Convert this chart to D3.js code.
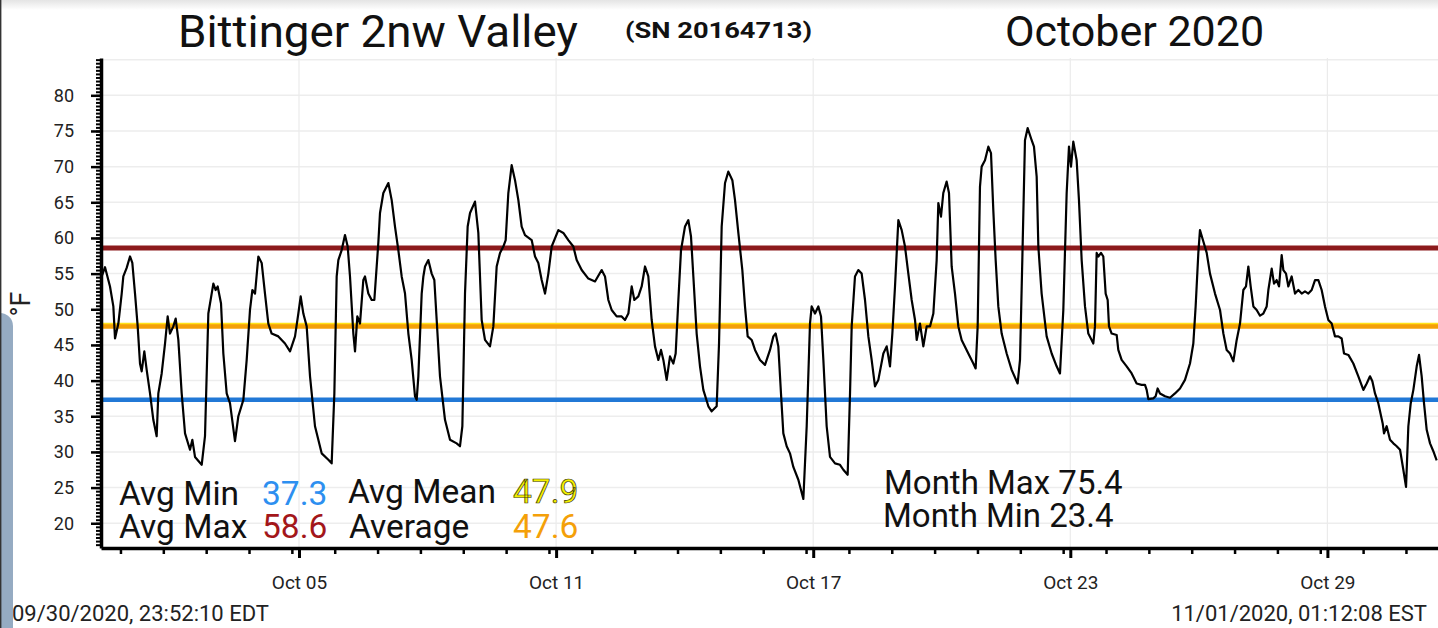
<!DOCTYPE html>
<html>
<head>
<meta charset="utf-8">
<script src="https://cdn.jsdelivr.net/npm/d3@7"></script>
<style>
  body { margin: 0; background: #fff; overflow: hidden; }
  text { font-family: Roboto, "Noto Sans", sans-serif; }
</style>
</head>
<body>
<div id="chart"></div>
<script>
const width = 1438, height = 628;

// Logger readings: day of month (on the chart's time axis) and °F
const dayOfMonth = [
    0.395, 0.473, 0.589, 0.667, 0.706, 0.784, 0.862, 0.900, 0.978, 1.056, 1.110, 1.173, 1.235, 1.289, 1.328,
    1.390, 1.445, 1.523, 1.600, 1.678, 1.717, 1.795, 1.873, 1.935, 1.989, 2.067, 2.122, 2.184, 2.262, 2.340,
    2.456, 2.511, 2.573, 2.729, 2.806, 2.884, 2.962, 3.001, 3.055, 3.102, 3.180, 3.234, 3.312, 3.390, 3.506,
    3.584, 3.701, 3.779, 3.856, 3.911, 3.973, 4.051, 4.129, 4.206, 4.284, 4.362, 4.518, 4.673, 4.790, 4.907,
    4.984, 5.039, 5.101, 5.179, 5.257, 5.373, 5.529, 5.685, 5.762, 5.825, 5.879, 5.918, 5.996, 6.073, 6.136,
    6.190, 6.268, 6.307, 6.361, 6.423, 6.501, 6.540, 6.618, 6.696, 6.758,
    6.851, 6.890, 6.968, 7.085, 7.163, 7.240, 7.318, 7.396, 7.474, 7.552, 7.629, 7.707, 7.746, 7.785, 7.863,
    7.902, 7.941, 8.018, 8.096, 8.158, 8.213, 8.290, 8.407, 8.524, 8.679, 8.757, 8.812, 8.874, 8.936, 8.991,
    9.107, 9.185, 9.263, 9.341, 9.457, 9.535, 9.613, 9.691, 9.768, 9.823, 9.885, 9.963, 10.041, 10.119, 10.196,
    10.274, 10.430, 10.508, 10.585, 10.663, 10.741, 10.819, 10.897, 11.052, 11.169, 11.285, 11.402, 11.480,
    11.597, 11.752, 11.908, 12.063, 12.141, 12.219, 12.297, 12.413, 12.530, 12.608, 12.686, 12.764, 12.826,
    12.919, 12.997, 13.075, 13.152, 13.230,
    13.308, 13.386, 13.448, 13.503, 13.580, 13.658, 13.736, 13.790, 13.853, 13.915, 14.008, 14.086, 14.148,
    14.203, 14.280, 14.358, 14.436, 14.553, 14.630, 14.747, 14.802, 14.864, 14.942, 15.019, 15.113, 15.175,
    15.253, 15.346, 15.408, 15.471, 15.564, 15.642, 15.758, 15.875, 15.992, 16.070, 16.124, 16.186, 16.248,
    16.303, 16.381, 16.458, 16.536, 16.653, 16.770, 16.848, 16.925, 16.964, 17.042, 17.120, 17.182, 17.237,
    17.314, 17.392, 17.509, 17.625, 17.703, 17.804, 17.859, 17.898, 17.975, 18.053, 18.131, 18.209, 18.287,
    18.364, 18.442, 18.520, 18.637, 18.715, 18.792, 18.847, 18.909, 18.987, 19.065, 19.142, 19.220, 19.298,
    19.376, 19.415, 19.492, 19.570, 19.648, 19.726, 19.804, 19.881,
    19.920, 19.982, 20.036, 20.114, 20.169, 20.231, 20.309, 20.387, 20.464, 20.620, 20.737, 20.791, 20.838,
    20.892, 20.931, 21.009, 21.087, 21.149, 21.203, 21.258, 21.320, 21.398, 21.515, 21.631, 21.771, 21.826,
    21.880, 21.942, 22.005, 22.098, 22.152, 22.215, 22.254, 22.331, 22.448, 22.565, 22.681, 22.759, 22.837,
    22.915, 22.969, 23.016, 23.070, 23.148, 23.202, 23.265, 23.343, 23.420, 23.498, 23.537, 23.576, 23.615,
    23.654, 23.716, 23.770, 23.825, 23.872, 23.903, 23.965, 24.082, 24.120, 24.198, 24.315, 24.432, 24.548,
    24.665, 24.743, 24.782, 24.821, 24.937, 24.992, 25.038, 25.093, 25.210, 25.326, 25.443, 25.560, 25.676,
    25.793, 25.871, 25.925, 25.988, 26.026,
    26.105, 26.183, 26.260, 26.377, 26.494, 26.572, 26.649, 26.727, 26.805, 26.883, 26.960, 27.038, 27.100,
    27.155, 27.209, 27.272, 27.349, 27.427, 27.505, 27.583, 27.622, 27.700, 27.754, 27.816, 27.871, 27.933,
    27.972, 28.034, 28.088, 28.166, 28.244, 28.322, 28.400, 28.477, 28.555, 28.633, 28.711, 28.789, 28.866,
    28.944, 29.022, 29.100, 29.177, 29.255, 29.333, 29.388, 29.489, 29.605, 29.722, 29.839, 29.917, 29.994,
    30.049, 30.111, 30.189, 30.290, 30.321, 30.383, 30.461, 30.539, 30.617, 30.695, 30.772, 30.835, 30.889,
    30.944, 31.006, 31.084, 31.138, 31.200, 31.255, 31.317, 31.395, 31.472, 31.550
];
const tempF = [
    54.6, 55.9, 53.2, 50.4, 45.9, 48.0, 52.2, 54.6, 55.8, 57.4, 56.5, 52.2, 47.6, 42.4, 41.3,
    44.1, 41.5, 38.2, 34.5, 32.2, 38.2, 41.0, 45.2, 49.0, 46.6, 47.6, 48.7, 45.7, 38.2, 32.6,
    30.3, 31.7, 29.3, 28.2, 32.2, 49.4, 52.2, 53.6, 52.7, 53.2, 50.8, 43.8, 38.2, 36.8, 31.5,
    35.0, 37.3, 42.9, 49.9, 52.7, 52.2, 57.4, 56.5, 52.2, 48.0, 46.6, 46.2, 45.2, 44.1, 46.2,
    49.4, 51.8, 49.4, 47.6, 40.6, 33.6, 29.8, 28.9, 28.4, 38.2, 54.6, 56.9, 58.3, 60.4, 58.8,
    54.6, 46.6, 44.1, 49.0, 48.0, 54.1, 54.6, 52.2, 51.3, 51.3,
    59.3, 63.5, 66.3, 67.7, 65.3, 61.6, 58.3, 54.6, 52.2, 46.6, 42.9, 37.8, 37.3, 40.6, 52.2,
    54.6, 56.0, 56.9, 55.0, 54.1, 48.5, 40.6, 34.5, 31.7, 31.2, 30.8, 33.6, 52.2, 61.6, 63.5,
    65.1, 60.7, 48.5, 45.7, 44.8, 47.6, 56.0, 57.9, 58.8, 59.7, 66.3, 70.2, 68.1, 65.3, 61.6,
    60.4, 59.7, 57.4, 56.5, 54.1, 52.2, 55.0, 58.8, 61.1, 60.7, 59.7, 58.8, 56.9,
    55.5, 54.3, 53.9, 55.5, 54.6, 51.3, 49.9, 49.0, 49.0, 48.5, 49.4, 53.2, 51.3,
    51.8, 53.2, 56.0, 54.6, 48.5,
    44.8, 42.9, 44.3, 42.9, 40.1, 43.4, 42.4, 43.8, 51.3, 58.3, 61.6, 62.5, 60.2,
    54.6, 46.6, 42.0, 38.7, 36.4, 35.7, 36.4, 45.2, 61.6, 67.7, 69.3, 68.1, 65.3,
    60.7, 55.5, 50.4, 46.2, 45.7, 44.3, 42.9, 42.2, 44.3, 46.2, 46.6, 44.8, 38.2,
    32.6, 30.8, 29.8, 27.9, 26.1, 23.4, 33.6, 48.0, 50.4, 49.4, 50.4, 49.0, 42.9,
    33.6, 29.3, 28.4, 28.2, 27.5, 26.8, 38.2, 47.6, 54.6, 55.5, 55.0, 51.3, 46.2,
    42.9, 39.2, 40.1, 43.8, 44.8, 42.0, 46.6, 53.2, 62.5, 61.1, 58.8, 55.0, 51.3,
    48.5, 45.7, 48.0, 44.8, 47.6, 47.6, 49.4, 56.9,
    64.9, 63.0, 66.3, 67.9, 66.3, 56.0, 52.2, 47.6, 45.7, 43.8, 42.4, 41.7, 47.6,
    67.2, 70.0, 70.9, 72.8, 71.9, 63.9, 56.9, 50.4, 46.6, 43.8, 41.5, 39.6, 42.9,
    56.9, 73.7, 75.4, 73.7, 72.8, 68.6, 58.8, 52.2, 46.2, 43.8, 42.0, 41.0, 49.9,
    66.3, 72.8, 70.0, 73.5, 70.9, 65.3, 56.9, 50.4, 46.6, 45.7, 45.2, 47.6, 57.9,
    57.4, 57.9, 57.4, 52.2, 51.3, 47.6, 46.6, 46.4, 44.3, 42.9, 42.0, 41.0, 39.6,
    39.4, 39.4, 38.7, 37.4, 37.5, 37.8, 38.9, 38.2, 37.8, 37.6, 38.2, 38.9, 40.1,
    42.4, 45.2, 50.4, 57.9, 61.1,
    59.5, 57.9, 55.0, 52.2, 49.9, 46.6, 44.3, 43.8, 42.7, 45.7, 48.0, 52.7, 53.2,
    56.0, 53.2, 50.4, 49.9, 49.1, 49.4, 50.4, 52.7, 55.7, 53.6, 54.1, 53.2, 57.6,
    55.5, 55.0, 53.2, 54.6, 52.2, 52.7, 52.2, 52.5, 52.2, 52.7, 54.1, 54.1, 52.7,
    50.4, 48.5, 48.0, 46.2, 46.2, 45.9, 43.8, 43.6, 42.4, 40.6, 38.7, 39.6, 40.6,
    39.9, 38.2, 36.8, 34.0, 32.6, 33.6, 31.7, 31.2, 30.8, 30.3, 27.5, 25.1, 33.6,
    36.8, 38.7, 42.0, 43.6, 40.6, 36.8, 33.1, 31.2, 30.1, 28.8
];

// Summary lines across the month
const statNames = ["Avg Max", "Avg Mean", "Average", "Avg Min"];
const statValues = [58.6, 47.9, 47.6, 37.3];
const monthMax = 75.4, monthMin = 23.4;

const yTicks = [20, 25, 30, 35, 40, 45, 50, 55, 60, 65, 70, 75, 80];
const xTickDays = [5, 11, 17, 23, 29];
const firstStamp = "09/30/2020, 23:52:10 EDT";
const lastStamp = "11/01/2020, 01:12:08 EST";

const statColors = {
    "Avg Max": "#8c1a1c",
    "Avg Mean": "#ffe31a",
    "Average": "#f4a009",
    "Avg Min": "#2178d6"
};

const dayToDate = d => new Date(Date.UTC(2020, 9, 1) + (d - 1) * 864e5);

const plot = { left: 101, right: 1438, top: 58, bottom: 548 };

const x = d3.scaleUtc()
    .domain([dayToDate(0.379), dayToDate(31.581)])
    .range([plot.left, plot.right]);
const y = d3.scaleLinear()
    .domain([16.53, 85.23])
    .range([plot.bottom, plot.top]);

let svg = d3.select('#chart')
    .append('svg')
      .attr('width', width)
      .attr('height', height);

// faint shadow along the top of the screen
let defs = svg.append('defs');
let grad = defs.append('linearGradient').attr('id', 'topShade').attr('x1', 0).attr('x2', 0).attr('y1', 0).attr('y2', 1);
grad.append('stop').attr('offset', '0%').attr('stop-color', '#e4e4e4');
grad.append('stop').attr('offset', '100%').attr('stop-color', '#ffffff');
svg.append('rect').attr('width', width).attr('height', 10).attr('fill', 'url(#topShade)');

defs.append('clipPath').attr('id', 'plotClip')
  .append('rect')
    .attr('x', plot.left).attr('y', plot.top)
    .attr('width', plot.right - plot.left).attr('height', plot.bottom - plot.top);

// grid
svg.append('g')
  .selectAll('line')
  .data(d3.range(20, 86, 5))
  .enter().append('line')
    .attr('x1', plot.left).attr('x2', plot.right)
    .attr('y1', d => y(d)).attr('y2', d => y(d))
    .attr('stroke', '#ededed').attr('stroke-width', 1.5);

svg.append('g')
  .selectAll('line')
  .data(xTickDays)
  .enter().append('line')
    .attr('x1', d => x(dayToDate(d))).attr('x2', d => x(dayToDate(d)))
    .attr('y1', plot.top).attr('y2', plot.bottom)
    .attr('stroke', '#ebebeb').attr('stroke-width', 1.2);

// summary lines
let stats = svg.append('g').attr('clip-path', 'url(#plotClip)');
statNames.forEach((name, i) => {
    stats.append('line')
        .attr('x1', plot.left).attr('x2', plot.right)
        .attr('y1', y(statValues[i])).attr('y2', y(statValues[i]))
        .attr('stroke', statColors[name])
        .attr('stroke-width', name === 'Avg Mean' ? 3 : name === 'Avg Max' ? 5 : 4.5);
});

// temperature trace
const line = d3.line()
    .x((d, i) => x(dayToDate(dayOfMonth[i])))
    .y(d => y(d));

svg.append('path')
    .datum(tempF)
    .attr('clip-path', 'url(#plotClip)')
    .attr('d', line)
    .attr('fill', 'none')
    .attr('stroke', '#000')
    .attr('stroke-width', 2.2)
    .attr('stroke-linejoin', 'round');

// y axis: half-degree minor ticks, labelled every 5
let yMinor = svg.append('g')
    .attr('transform', `translate(${plot.left},0)`)
    .call(d3.axisLeft(y).tickValues(d3.range(17, 85.1, 0.5)).tickSize(5).tickFormat(''));
yMinor.select('.domain').remove();
yMinor.selectAll('line').attr('stroke-width', 2);

let yMajor = svg.append('g')
    .attr('transform', `translate(${plot.left},0)`)
    .call(d3.axisLeft(y).tickValues(yTicks).tickSize(10).tickSizeOuter(0).tickPadding(17));
yMajor.select('.domain').attr('stroke-width', 3.5);
yMajor.selectAll('.tick line').attr('stroke-width', 2.5);
yMajor.selectAll('text').attr('font-size', 18).attr('fill', '#222').attr('font-family', 'Roboto');

// x axis: daily minor ticks (UTC midnight) and labelled local-midnight ticks
let minorDays = d3.range(1, 32).map(d => d3.utcHour.offset(dayToDate(d), -4));
let xMinor = svg.append('g')
    .attr('transform', `translate(0,${plot.bottom})`)
    .call(d3.axisBottom(x).tickValues(minorDays).tickSize(6).tickFormat(''));
xMinor.select('.domain').remove();
xMinor.selectAll('line').attr('stroke-width', 2.5);

let xMajor = svg.append('g')
    .attr('transform', `translate(0,${plot.bottom})`)
    .call(d3.axisBottom(x)
        .tickValues(xTickDays.map(dayToDate))
        .tickFormat(d3.utcFormat('%b %d'))
        .tickSize(10).tickSizeOuter(0).tickPadding(18));
xMajor.select('.domain').attr('stroke-width', 3.5);
xMajor.selectAll('.tick line').attr('stroke-width', 3);
xMajor.selectAll('text').attr('font-size', 19).attr('fill', '#222').attr('font-family', 'Roboto');

// unit label
svg.append('text')
    .attr('transform', 'translate(30,304) rotate(-90)')
    .attr('text-anchor', 'middle')
    .attr('font-size', 27)
    .attr('fill', '#222')
    .text('°F');

// titles
svg.append('text').attr('x', 178).attr('y', 47).attr('font-size', 44).attr('fill', '#111')
    .attr('textLength', 400).attr('lengthAdjust', 'spacingAndGlyphs')
    .text('Bittinger 2nw Valley');
svg.append('text').attr('x', 625).attr('y', 38).attr('font-size', 22).attr('font-weight', 'bold').attr('fill', '#111')
    .attr('textLength', 187).attr('lengthAdjust', 'spacingAndGlyphs')
    .text('(SN 20164713)');
svg.append('text').attr('x', 1005).attr('y', 46).attr('font-size', 43).attr('fill', '#111')
    .text('October 2020');

// summary text block
const statText = svg.append('g').attr('font-size', 33.5).attr('fill', '#111');
const statLayout = [
    { name: 'Avg Min', lx: 119, vx: 262, by: 505 },
    { name: 'Avg Max', lx: 119, vx: 262, by: 538 },
    { name: 'Avg Mean', lx: 348, vx: 513, by: 503 },
    { name: 'Average', lx: 349, vx: 513, by: 538 }
];
statLayout.forEach(s => {
    const v = statValues[statNames.indexOf(s.name)];
    statText.append('text').attr('x', s.lx).attr('y', s.by).text(s.name);
    let t = statText.append('text').attr('x', s.vx).attr('y', s.by)
        .attr('fill', s.name === 'Avg Max' ? '#a3161a' : s.name === 'Avg Min' ? '#2d8ff0' : statColors[s.name])
        .text(v.toFixed(1));
    if (s.name === 'Avg Mean') t.attr('fill', '#f5f000').attr('stroke', '#3a3a10').attr('stroke-width', 0.7);
});

svg.append('text').attr('x', 884).attr('y', 494).attr('font-size', 33).attr('fill', '#111')
    .text('Month Max ' + monthMax.toFixed(1));
svg.append('text').attr('x', 883).attr('y', 527).attr('font-size', 33).attr('fill', '#111')
    .text('Month Min ' + monthMin.toFixed(1));

// first / last record stamps
svg.append('text').attr('x', 12).attr('y', 621).attr('font-size', 22).attr('fill', '#222').text(firstStamp);
svg.append('text').attr('x', 1427).attr('y', 621).attr('font-size', 22).attr('fill', '#222')
    .attr('text-anchor', 'end').text(lastStamp);

// phone overlay at the left edge
svg.append('rect').attr('x', -20).attr('y', 313).attr('width', 33).attr('height', 340).attr('rx', 13)
    .attr('fill', '#8fa7bf').attr('opacity', 0.95);
svg.append('line').attr('x1', 0.7).attr('x2', 0.7).attr('y1', 0).attr('y2', height)
    .attr('stroke', '#333').attr('stroke-width', 1.4);
</script>
</body>
</html>
